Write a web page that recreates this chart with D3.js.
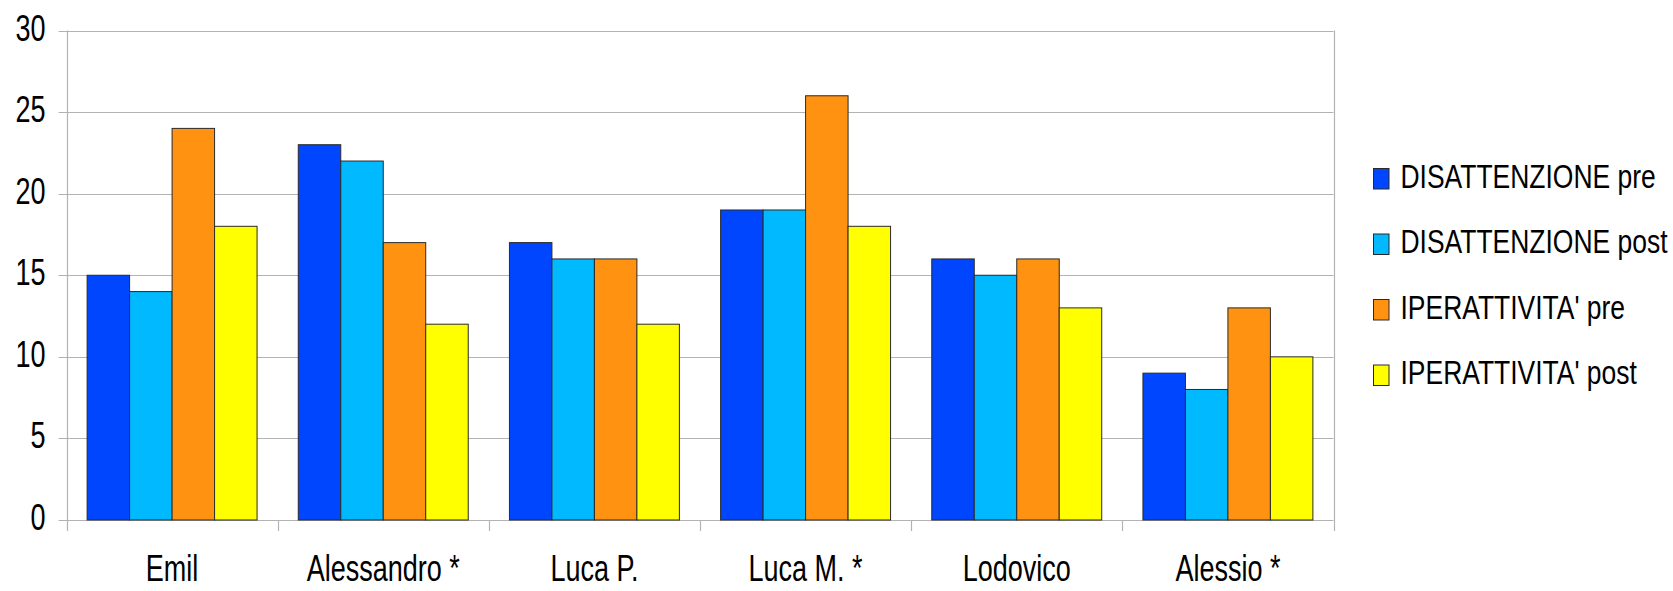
<!DOCTYPE html>
<html>
<head>
<meta charset="utf-8">
<script src="https://cdn.jsdelivr.net/npm/d3@7"></script>
<style>
  html, body { margin: 0; padding: 0; background: #fff; }
  svg { display: block; }
  text { font-family: "Liberation Sans", Arial, sans-serif; fill: #000; }
</style>
</head>
<body>
<svg id="chart" width="1673" height="591"></svg>
<script>
const categories = ["Emil", "Alessandro *", "Luca P.", "Luca M. *", "Lodovico", "Alessio *"];
const seriesNames = ["DISATTENZIONE pre", "DISATTENZIONE post", "IPERATTIVITA' pre", "IPERATTIVITA' post"];
const disattenzionePre  = [15, 23, 17, 19, 16, 9];
const disattenzionePost = [14, 22, 16, 19, 15, 8];
const iperattivitaPre   = [24, 17, 16, 26, 16, 13];
const iperattivitaPost  = [18, 12, 12, 18, 13, 10];
const yTicks = [0, 5, 10, 15, 20, 25, 30];
const colors = ["#0046ff", "#00b9ff", "#ff9210", "#ffff00"];

const seriesValues = [disattenzionePre, disattenzionePost, iperattivitaPre, iperattivitaPost];

const svg = d3.select("#chart");
const plot = { left: 66.5, right: 1333.5, top: 30.5, bottom: 520 };

const x = d3.scaleBand().domain(categories).range([plot.left, plot.right]).paddingInner(0).paddingOuter(0);
const xs = d3.scaleBand().domain(seriesNames).range([0, x.bandwidth()]).paddingInner(0).paddingOuter(0.485);
const y = d3.scaleLinear().domain([0, 30]).range([plot.bottom, plot.top]);

const gridColor = "#b3b3b3";

// gridlines with outward ticks
svg.append("g").selectAll("line").data(yTicks).join("line")
  .attr("x1", plot.left - 8).attr("x2", plot.right)
  .attr("y1", d => Math.round(y(d)) + 0.5).attr("y2", d => Math.round(y(d)) + 0.5)
  .attr("stroke", gridColor).attr("stroke-width", 1.2);

// vertical axis lines and category ticks
const boundaries = categories.map(c => x(c)).concat([plot.right]);
svg.append("g").selectAll("line").data(boundaries).join("line")
  .attr("x1", d => Math.round(d) + 0.5).attr("x2", d => Math.round(d) + 0.5)
  .attr("y1", (d, i) => (i === 0 || i === boundaries.length - 1) ? plot.top : plot.bottom)
  .attr("y2", plot.bottom + 11)
  .attr("stroke", gridColor).attr("stroke-width", 1.2);

// bars
const groups = svg.append("g").selectAll("g").data(categories).join("g")
  .attr("transform", d => `translate(${x(d)},0)`);
groups.selectAll("rect")
  .data((c, ci) => seriesNames.map((s, si) => ({ s, si, v: seriesValues[si][ci] })))
  .join("rect")
  .attr("x", d => xs(d.s))
  .attr("width", xs.bandwidth())
  .attr("y", d => y(d.v))
  .attr("height", d => y(0) - y(d.v))
  .attr("fill", d => colors[d.si])
  .attr("stroke", "#2a2a2a")
  .attr("stroke-width", 1);

// y tick labels
svg.append("g").selectAll("text").data(yTicks).join("text")
  .attr("transform", d => `translate(${plot.left - 21},${y(d) + 10}) scale(0.75,1)`)
  .attr("text-anchor", "end")
  .attr("font-size", 36)
  .text(d => d);

// x labels
svg.append("g").selectAll("text").data(categories).join("text")
  .attr("transform", d => `translate(${x(d) + x.bandwidth() / 2},581) scale(0.73,1)`)
  .attr("text-anchor", "middle")
  .attr("font-size", 37)
  .text(d => d);

// legend
const legend = svg.append("g").selectAll("g").data(seriesNames).join("g")
  .attr("transform", (d, i) => `translate(1373.5,${168.5 + i * 65.5})`);
legend.append("rect")
  .attr("x", 0).attr("y", 0).attr("width", 15.5).attr("height", 20.5)
  .attr("fill", (d, i) => colors[i])
  .attr("stroke", "#2a2a2a").attr("stroke-width", 1);
legend.append("text")
  .attr("transform", "translate(27,19) scale(0.79,1)")
  .attr("font-size", 33.5)
  .text(d => d);
</script>
</body>
</html>
